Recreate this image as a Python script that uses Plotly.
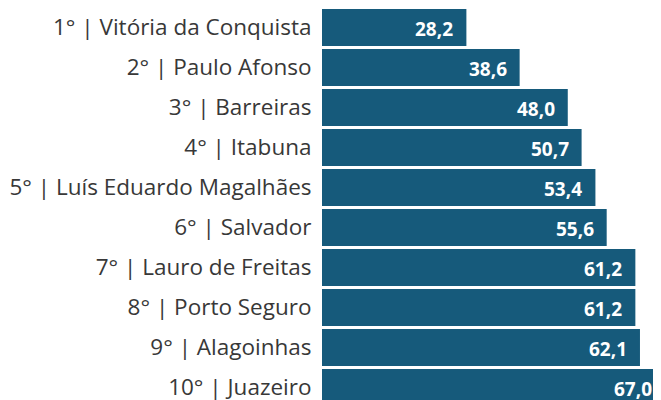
import plotly.graph_objects as go

categories = ["1° | Vitória da Conquista", "2° | Paulo Afonso", "3° | Barreiras",
              "4° | Itabuna", "5° | Luís Eduardo Magalhães", "6° | Salvador",
              "7° | Lauro de Freitas", "8° | Porto Seguro", "9° | Alagoinhas",
              "10° | Juazeiro"]
values = [28.2, 38.6, 48.0, 50.7, 53.4, 55.6, 61.2, 61.2, 62.1, 67.0]
value_labels = [f"{v:.1f}".replace(".", ",") for v in values]

fig = go.Figure(go.Bar(
    x=values, y=categories, orientation="h",
    marker=dict(color="#165a7b", line=dict(width=0)),
    hoverinfo="skip",
))

for v, c, t in zip(values, categories, value_labels):
    fig.add_annotation(x=v, y=c, text=t, showarrow=False, xanchor="right",
                       yanchor="middle", xshift=-11, yshift=-1,
                       font=dict(family="Open Sans", size=19, color="white", weight="bold"))

fig.update_layout(
    width=661, height=400,
    margin=dict(l=314, r=0, t=0, b=0),
    paper_bgcolor="white", plot_bgcolor="white",
    bargap=0.075,
    showlegend=False,
)
fig.update_xaxes(range=[0, 67.77], visible=False, fixedrange=True)
fig.update_yaxes(range=[9.5125, -0.4875], showgrid=False, zeroline=False,
                 showline=False, ticks="outside", ticklen=5, tickcolor="rgba(0,0,0,0)",
                 automargin=False,
                 tickfont=dict(family="Open Sans", size=22.5, color="#383838"))

fig.write_html("out.html")
